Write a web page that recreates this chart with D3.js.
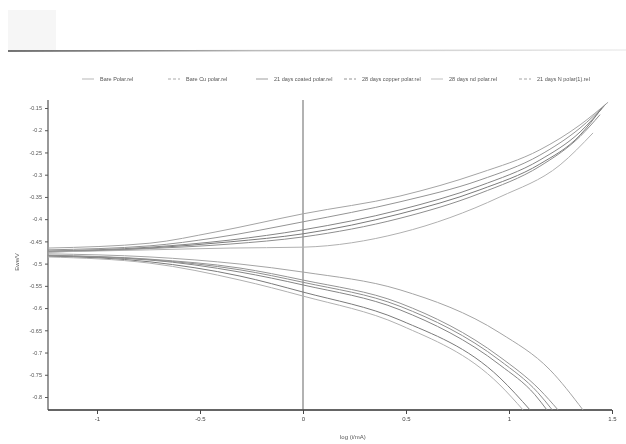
<!DOCTYPE html>
<html>
<head>
<meta charset="utf-8">
<script src="https://cdn.jsdelivr.net/npm/d3@7"></script>
<style>
  body { margin: 0; background: #fff; }
  svg { display: block; font-family: "Liberation Sans", Arial, sans-serif; }
</style>
</head>
<body>
<div id="chart"></div>
<script>
// series names (legend)
var seriesNames = ["Bare Polar.rel", "Bare Cu polar.rel", "21 days coated polar.rel",
                   "28 days copper polar.rel", "28 days nd polar.rel", "21 days N polar(1).rel"];
var seriesColors = ["#a4a4a4", "#949494", "#858585", "#7a7a7a", "#b0b0b0", "#8e8e8e"];

// anodic branch: log(i) and potential (V)
var anodicLogI = [
    [-1.238, -0.743, -0.427, 0, 0.471, 0.859, 1.150, 1.345, 1.481],
    [-1.238, -0.743, -0.427, 0, 0.471, 0.859, 1.150, 1.345, 1.471],
    [-1.238, -0.743, -0.354, 0, 0.471, 0.859, 1.150, 1.345, 1.461],
    [-1.238, -0.743, -0.354, 0, 0.471, 0.859, 1.150, 1.345, 1.451],
    [-1.238, -0.743, -0.354, 0, 0.471, 0.956, 1.248, 1.408],
    [-1.238, -0.743, -0.354, 0, 0.471, 0.859, 1.150, 1.345, 1.442]
];
var anodicE = [
    [-0.465, -0.454, -0.429, -0.388, -0.348, -0.296, -0.244, -0.188, -0.137],
    [-0.469, -0.460, -0.442, -0.406, -0.361, -0.312, -0.256, -0.195, -0.141],
    [-0.472, -0.463, -0.447, -0.424, -0.379, -0.325, -0.267, -0.204, -0.146],
    [-0.474, -0.465, -0.451, -0.433, -0.388, -0.334, -0.276, -0.211, -0.150],
    [-0.474, -0.469, -0.465, -0.463, -0.431, -0.350, -0.278, -0.206],
    [-0.472, -0.466, -0.456, -0.440, -0.398, -0.342, -0.281, -0.214, -0.165]
];

// cathodic branch: log(i) and potential (V)
var cathodicLogI = [
    [-1.238, -0.743, -0.306, 0, 0.471, 0.956, 1.199, 1.359],
    [-1.238, -0.743, -0.306, 0, 0.471, 0.956, 1.150, 1.238],
    [-1.238, -0.743, -0.306, 0, 0.471, 0.956, 1.126, 1.184],
    [-1.238, -0.743, -0.306, 0, 0.471, 0.956, 1.102],
    [-1.238, -0.743, -0.306, 0, 0.471, 0.956, 1.068],
    [-1.238, -0.743, -0.306, 0, 0.471, 0.956, 1.140, 1.210]
];
var cathodicE = [
    [-0.478, -0.485, -0.501, -0.519, -0.559, -0.656, -0.739, -0.829],
    [-0.481, -0.490, -0.510, -0.537, -0.589, -0.710, -0.784, -0.829],
    [-0.483, -0.492, -0.519, -0.548, -0.604, -0.728, -0.795, -0.829],
    [-0.483, -0.496, -0.528, -0.564, -0.627, -0.757, -0.829],
    [-0.485, -0.499, -0.537, -0.573, -0.638, -0.773, -0.829],
    [-0.482, -0.491, -0.514, -0.542, -0.596, -0.718, -0.790, -0.829]
];

var xTicks = [-1, -0.5, 0, 0.5, 1, 1.5];
var yTicks = [-0.15, -0.2, -0.25, -0.3, -0.35, -0.4, -0.45, -0.5, -0.55, -0.6, -0.65, -0.7, -0.75, -0.8];

function init() {
    var w = 626, h = 444;

    var x = d3.scaleLinear().domain([-1, 1.5]).range([97, 612]);
    var y = d3.scaleLinear().domain([-0.8, -0.15]).range([397, 108]);

    var left = 48, right = 612, top = 100, bottom = 410;

    var svg = d3.select("#chart").append("svg")
        .attr("width", w)
        .attr("height", h);

    var defs = svg.append("defs");
    defs.append("filter").attr("id", "soft")
        .append("feGaussianBlur").attr("stdDeviation", 0.5);
    var grad = defs.append("linearGradient").attr("id", "edge");
    grad.append("stop").attr("offset", "0%").attr("stop-color", "#444");
    grad.append("stop").attr("offset", "40%").attr("stop-color", "#bbb");
    grad.append("stop").attr("offset", "100%").attr("stop-color", "#eee");

    var g = svg.append("g").attr("filter", "url(#soft)");

    // scanned page edge at top
    g.append("rect").attr("x", 8).attr("y", 10).attr("width", 48).attr("height", 40).attr("fill", "#f6f6f6");
    g.append("line").attr("x1", 8).attr("x2", 626).attr("y1", 51).attr("y2", 50)
        .attr("stroke", "url(#edge)").attr("stroke-width", 1.5);

    // legend
    var legend = g.append("g").attr("class", "legend");
    var legX = [82, 168, 256, 344, 431, 519];
    seriesNames.forEach(function(name, i) {
        var lg = legend.append("g").attr("transform", "translate(" + legX[i] + ",79)");
        lg.append("line").attr("x1", 0).attr("x2", 12)
            .attr("stroke", seriesColors[i]).attr("stroke-width", 0.8)
            .attr("stroke-dasharray", i % 2 ? "3,2" : null);
        lg.append("text").attr("x", 18).attr("y", 2)
            .attr("font-size", 5.5).attr("fill", "#555")
            .text(name);
    });

    // hyphen minus like the original print
    var fmt = function(d) { return String(d).replace("\u2212", "-"); };

    // axes
    var xAxis = d3.axisBottom(x).tickValues(xTicks).tickSize(4).tickSizeOuter(0).tickFormat(fmt);
    var xg = g.append("g").attr("transform", "translate(0," + bottom + ")").call(xAxis);
    xg.select(".domain").attr("d", "M" + left + ",0H" + right).attr("stroke", "#333").attr("stroke-width", 1.4);
    xg.selectAll(".tick line").attr("stroke", "#444");
    xg.selectAll(".tick text").attr("font-size", 6).attr("fill", "#444").attr("y", 7);

    var yAxis = d3.axisLeft(y).tickValues(yTicks).tickSize(3).tickSizeOuter(0).tickFormat(fmt);
    var yg = g.append("g").attr("transform", "translate(" + left + ",0)").call(yAxis);
    yg.select(".domain").attr("d", "M0," + top + "V" + bottom).attr("stroke", "#444").attr("stroke-width", 1.1);
    yg.selectAll(".tick line").attr("stroke", "#555");
    yg.selectAll(".tick text").attr("font-size", 5.5).attr("fill", "#555");

    // zero line
    g.append("line").attr("x1", x(0)).attr("x2", x(0)).attr("y1", top).attr("y2", bottom)
        .attr("stroke", "#555").attr("stroke-width", 0.9);

    // axis titles
    g.append("text").attr("x", 340).attr("y", 439)
        .attr("font-size", 6).attr("fill", "#555").text("log (i/mA)");
    g.append("text").attr("transform", "translate(19,262) rotate(-90)")
        .attr("text-anchor", "middle").attr("font-size", 6).attr("fill", "#555").text("Ewe/V");

    // curves
    var line = d3.line()
        .x(function(d) { return x(d[0]); })
        .y(function(d) { return y(d[1]); })
        .curve(d3.curveMonotoneX);

    seriesNames.forEach(function(name, i) {
        var an = d3.zip(anodicLogI[i], anodicE[i]);
        var ca = d3.zip(cathodicLogI[i], cathodicE[i]);
        g.append("path").attr("d", line(an)).attr("fill", "none")
            .attr("stroke", seriesColors[i]).attr("stroke-width", 1);
        g.append("path").attr("d", line(ca)).attr("fill", "none")
            .attr("stroke", seriesColors[i]).attr("stroke-width", 1);
    });
}

window.onload = init;
</script>
</body>
</html>
